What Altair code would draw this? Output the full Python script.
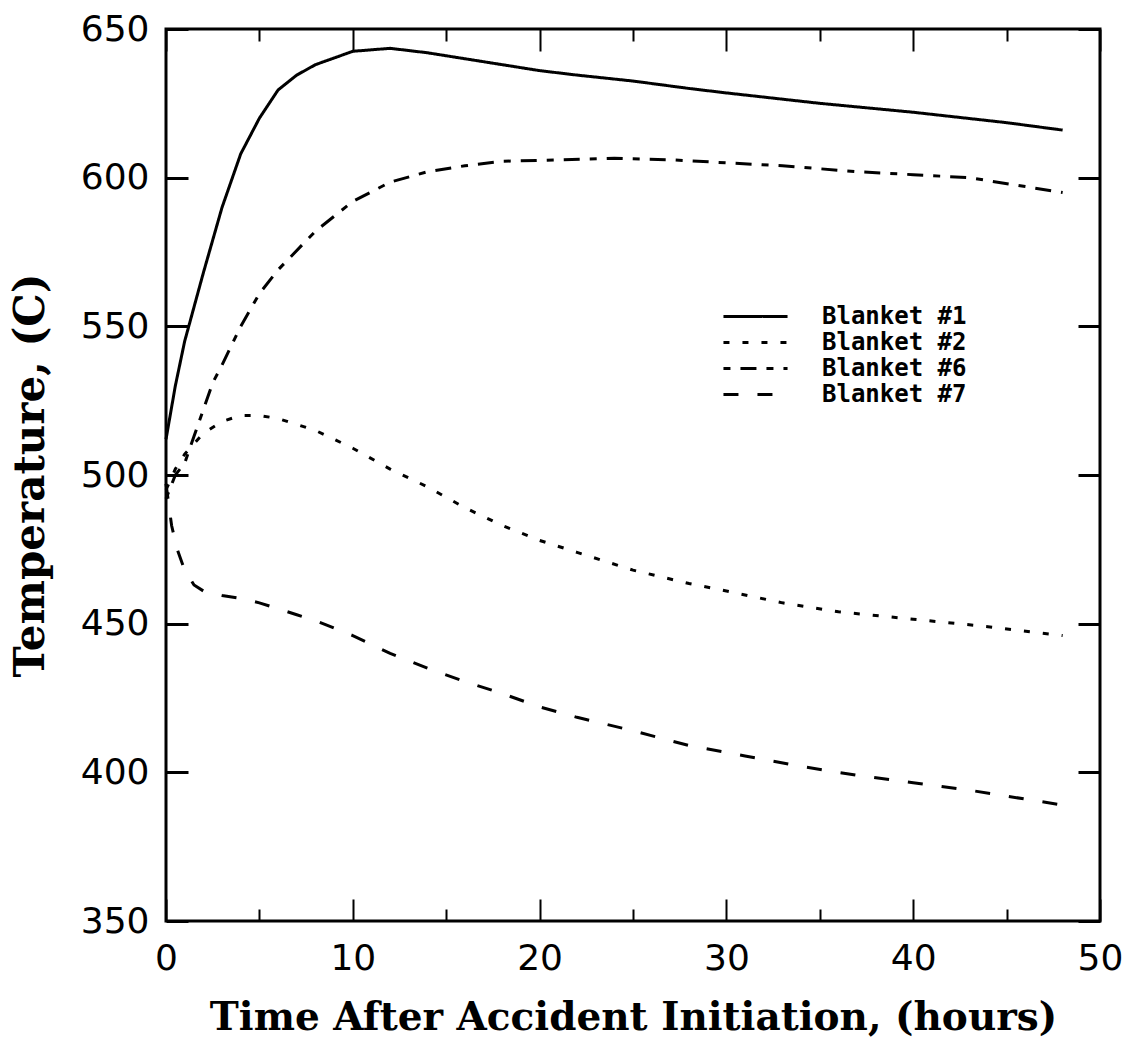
import altair as alt
import pandas as pd

# ---- data ----
series_names = ["Blanket #1", "Blanket #2", "Blanket #6", "Blanket #7"]

t_b1 = [0, 0.5, 1, 2, 3, 4, 5, 6, 7, 8, 10, 12, 14, 16, 18, 20, 22, 25, 28, 30, 35, 40, 45, 48]
T_b1 = [512, 530, 545, 568, 590, 608, 620, 629.5, 634.5, 638, 642.5, 643.5, 642, 640, 638, 636,
        634.5, 632.5, 630, 628.5, 625, 622, 618.5, 616]

t_b2 = [0, 0.5, 1, 2, 3, 4, 5, 6, 7, 8, 10, 12, 14, 16, 18, 20, 22, 25, 28, 30, 33, 36, 40, 44, 48]
T_b2 = [495, 502, 507, 514, 518, 520, 520, 519, 517, 515, 509, 502, 496, 489, 483, 478, 474,
        468, 463.5, 461, 457, 454, 451.5, 449, 446]

t_b6 = [0, 0.5, 1, 1.5, 2, 2.5, 3, 4, 5, 6, 8, 10, 12, 14, 16, 18, 21, 24, 27, 30, 33, 37, 40, 43, 46, 48]
T_b6 = [492, 500, 504, 513, 522, 531, 537, 550, 561, 569, 582, 592, 598.5, 602, 604, 605.5, 606,
        606.5, 606, 605, 604, 602, 601, 600, 597, 595]

t_b7 = [0, 0.3, 0.6, 1, 1.5, 2, 3, 4, 5, 6, 7, 8, 10, 12, 14, 16, 18, 20, 22, 25, 28, 31, 34, 37,
        40, 43, 46, 48]
T_b7 = [497, 483, 475, 468, 463, 461, 459.5, 458.5, 457, 455, 453, 451, 446, 440, 435, 430.5,
        426.5, 422, 418.5, 414, 409, 405.5, 402, 399, 396.5, 394, 391, 389]

x_tick_values = [0, 5, 10, 15, 20, 25, 30, 35, 40, 45, 50]
y_tick_values = [350, 400, 450, 500, 550, 600, 650]

x_title = "Time After Accident Initiation, (hours)"
y_title = "Temperature, (C)"

# ---- build table ----
rows = []
for name, ts, Ts in [(series_names[0], t_b1, T_b1), (series_names[1], t_b2, T_b2),
                     (series_names[2], t_b6, T_b6), (series_names[3], t_b7, T_b7)]:
    for a, b in zip(ts, Ts):
        rows.append({"series": name, "t": a, "T": b})
df = pd.DataFrame(rows)

W, H = 934, 892
X_DOM = [0, 50]
Y_DOM = [350, 650]

dash_range = [[1, 0], [6, 13], [7, 10, 16, 10], [15, 19]]

# inward tick marks drawn as short dashes of the grid lines at both ends of the frame
MAJ, MIN = 22, 12
x_grid_dash = {"condition": {"test": "datum.value % 10 === 0",
                             "value": [MAJ, H - 2 * MAJ, MAJ]},
               "value": [MIN, H - 2 * MIN, MIN]}
y_grid_dash = [MAJ, W - 2 * MAJ, MAJ]

# legend line sample: a long horizontal stroke in a compact legend row
legend_symbol = "M-2.67,0H2.67"

chart = alt.Chart(df).mark_line(strokeWidth=3, color="black").encode(
    x=alt.X("t:Q", scale=alt.Scale(domain=X_DOM, nice=False, zero=False), axis=alt.Axis(
        orient="bottom", values=x_tick_values, ticks=False, tickSize=0, domain=False,
        grid=True, gridDash=x_grid_dash, gridColor="black", gridWidth=2, gridOpacity=1,
        labelExpr="datum.value % 10 === 0 ? datum.label : ''",
        labelFont="DejaVu Sans", labelFontSize=36, labelPadding=20, labelColor="black",
        labelFlush=False, labelOverlap=False,
        title=x_title, titleFont="DejaVu Serif", titleFontSize=39, titleFontWeight="bold",
        titleColor="black", titlePadding=22)),
    y=alt.Y("T:Q", scale=alt.Scale(domain=Y_DOM, nice=False, zero=False), axis=alt.Axis(
        orient="left", values=y_tick_values, ticks=False, tickSize=0, domain=False,
        grid=True, gridDash=y_grid_dash, gridColor="black", gridWidth=3, gridOpacity=1,
        labelFont="DejaVu Sans", labelFontSize=36, labelPadding=17, labelColor="black",
        labelFlush=False, labelOverlap=False,
        title=y_title, titleFont="DejaVu Serif", titleFontSize=42, titleFontWeight="bold",
        titleColor="black", titlePadding=28)),
    strokeDash=alt.StrokeDash("series:N", scale=alt.Scale(domain=series_names, range=dash_range),
        legend=alt.Legend(orient="none", legendX=576, legendY=274, title=None,
                          symbolType=legend_symbol, symbolSize=576, symbolStrokeWidth=3,
                          symbolStrokeColor="black", symbolFillColor="transparent",
                          labelFont="DejaVu Sans Mono",
                          labelFontWeight="bold", labelFontSize=24, labelOffset=53,
                          labelColor="black", rowPadding=0, padding=0)),
).properties(
    width=W, height=H,
    padding={"left": 9, "top": 11, "right": 5, "bottom": 4},
    background="white",
).configure_view(
    stroke="black", strokeWidth=3
)

chart.save("out.html", embed_options={"renderer": "svg", "actions": False})
